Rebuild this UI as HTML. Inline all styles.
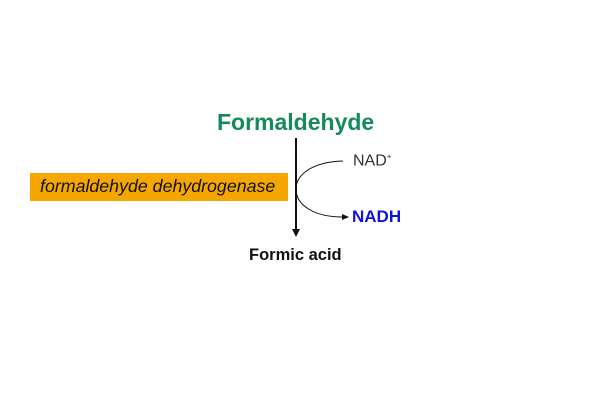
<!DOCTYPE html>
<html><head><style>
body{margin:0;width:600px;height:400px;background:#fff;position:relative;overflow:hidden;font-family:"Liberation Sans",sans-serif}
.t{position:absolute;white-space:nowrap}
</style></head><body>
<div class="t" style="left:217px;top:109px;font-size:23px;font-weight:bold;color:#158a5c">Formaldehyde</div>
<div style="position:absolute;left:30px;top:173px;width:258px;height:28px;background:#f5a700"></div>
<div class="t" style="left:40px;top:176px;font-size:17.8px;font-style:italic;color:#111">formaldehyde dehydrogenase</div>
<svg width="600" height="400" style="position:absolute;left:0;top:0">
<line x1="296" y1="138" x2="296" y2="230" stroke="#111" stroke-width="2"/>
<polygon points="292,229 300,229 296,237" fill="#111"/>
<path d="M343,161 C310,162 296,176 296,189 C296,204 312,217 343,217" fill="none" stroke="#111" stroke-width="1"/>
<polygon points="342,214 349,217 342,220" fill="#111"/>
</svg>
<div class="t" style="left:353px;top:152px;font-size:16px;color:#333">NAD<sup style="font-size:8px">+</sup></div>
<div class="t" style="left:352px;top:207px;font-size:17px;font-weight:bold;color:#1010e0">NADH</div>
<div class="t" style="left:249px;top:246px;font-size:16.5px;font-weight:bold;color:#111">Formic acid</div>
</body></html>
